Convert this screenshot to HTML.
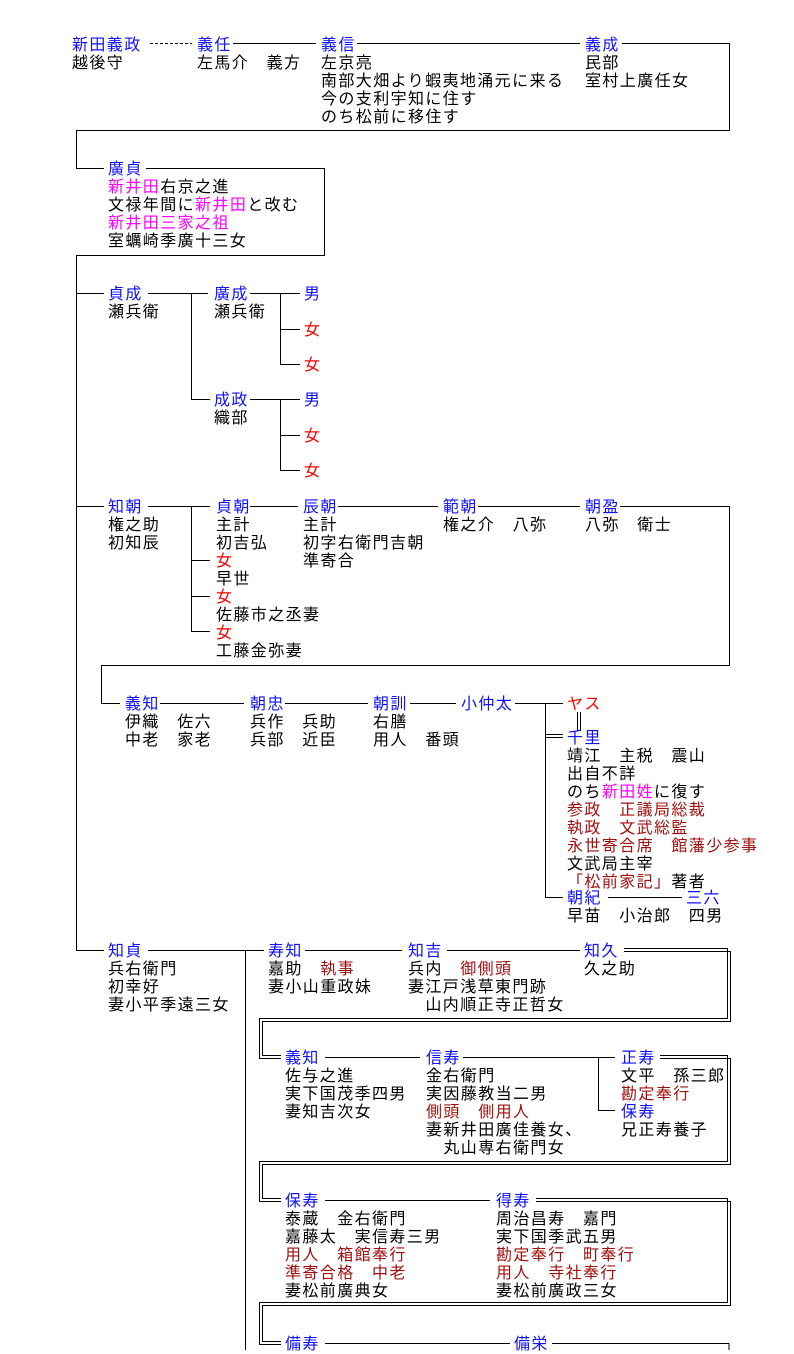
<!DOCTYPE html>
<html><head><meta charset="utf-8">
<style>
body{margin:0;background:#fff;width:794px;height:1350px;overflow:hidden;position:relative}
.t{position:absolute;font-size:16px;line-height:18px;font-family:"Liberation Sans","Noto Sans CJK JP",sans-serif;letter-spacing:1.4px;white-space:pre;color:#000;transform:translateY(2px)}
.b{color:#1010ff}.m{color:#ff00ff}.r{color:#ff0000}.d{color:#a01010}
svg{position:absolute;left:0;top:0}
</style></head><body>
<svg width="794" height="1350" stroke="#000" stroke-width="1" fill="none" shape-rendering="crispEdges">
<line x1="150" y1="43.5" x2="192" y2="43.5" stroke-dasharray="3,2"/>
<line x1="233" y1="43.5" x2="316" y2="43.5"/>
<line x1="357" y1="43.5" x2="580" y2="43.5"/>
<polyline points="622,43.5 729.5,43.5 729.5,130.5 76.5,130.5 76.5,168.5 104,168.5"/>
<polyline points="146,168.5 324.5,168.5 324.5,255.5 76.5,255.5 76.5,950"/>
<line x1="76" y1="293.5" x2="104" y2="293.5"/>
<line x1="148" y1="293.5" x2="208" y2="293.5"/>
<polyline points="191.5,293.5 191.5,399.5 210,399.5"/>
<line x1="250" y1="293.5" x2="300" y2="293.5"/>
<polyline points="280.5,293.5 280.5,364.5 300,364.5"/><line x1="280" y1="329.5" x2="300" y2="329.5"/>
<line x1="250" y1="399.5" x2="300" y2="399.5"/>
<polyline points="280.5,399.5 280.5,470.5 300,470.5"/><line x1="280" y1="435.5" x2="300" y2="435.5"/>
<line x1="76" y1="506.5" x2="104" y2="506.5"/>
<line x1="148" y1="506.5" x2="210" y2="506.5"/>
<polyline points="191.5,506.5 191.5,631.5 210,631.5"/>
<line x1="191" y1="560.5" x2="210" y2="560.5"/><line x1="191" y1="596.5" x2="210" y2="596.5"/>
<line x1="250" y1="506.5" x2="298" y2="506.5"/>
<line x1="338" y1="506.5" x2="438" y2="506.5"/>
<line x1="478" y1="506.5" x2="580" y2="506.5"/>
<polyline points="620,506.5 729.5,506.5 729.5,665.5 101.5,665.5 101.5,703.5 120,703.5"/>
<line x1="160" y1="703.5" x2="244" y2="703.5"/>
<line x1="285" y1="703.5" x2="368" y2="703.5"/>
<line x1="410" y1="703.5" x2="456" y2="703.5"/>
<line x1="515" y1="703.5" x2="563" y2="703.5"/>
<polyline points="545.5,703.5 545.5,897.5 563,897.5"/>
<line x1="577.5" y1="712" x2="577.5" y2="731"/><line x1="580.5" y1="712" x2="580.5" y2="731"/>
<line x1="545" y1="734.5" x2="563" y2="734.5"/><line x1="545" y1="737.5" x2="563" y2="737.5"/>
<line x1="608" y1="897.5" x2="682" y2="897.5"/>
<line x1="76" y1="950.5" x2="104" y2="950.5"/>
<line x1="148" y1="950.5" x2="264" y2="950.5"/>
<line x1="245.5" y1="950" x2="245.5" y2="1350"/>
<line x1="305" y1="950.5" x2="402" y2="950.5"/>
<line x1="447" y1="950.5" x2="580" y2="950.5"/>
<polyline points="624,948.5 727.5,948.5 727.5,1018.5 259.5,1018.5 259.5,1058.5 281,1058.5"/>
<polyline points="624,951.5 730.5,951.5 730.5,1021.5 262.5,1021.5 262.5,1055.5 281,1055.5"/>
<line x1="325" y1="1057.5" x2="420" y2="1057.5"/>
<line x1="463" y1="1057.5" x2="615" y2="1057.5"/>
<polyline points="598.5,1057.5 598.5,1110.5 615,1110.5"/>
<polyline points="660,1055.5 727.5,1055.5 727.5,1161.5 259.5,1161.5 259.5,1201.5 281,1201.5"/>
<polyline points="660,1058.5 730.5,1058.5 730.5,1164.5 262.5,1164.5 262.5,1198.5 281,1198.5"/>
<line x1="325" y1="1200.5" x2="490" y2="1200.5"/>
<polyline points="536,1198.5 727.5,1198.5 727.5,1302.5 259.5,1302.5 259.5,1344.5 281,1344.5"/>
<polyline points="536,1201.5 730.5,1201.5 730.5,1305.5 262.5,1305.5 262.5,1341.5 281,1341.5"/>
<line x1="325" y1="1343.5" x2="510" y2="1343.5"/>
<polyline points="552,1343.5 729,1343.5 729,1350"/>
</svg>

<div class="t" style="left:72px;top:35px"><span class="b">新田義政</span>
越後守</div>
<div class="t" style="left:197px;top:35px"><span class="b">義任</span>
左馬介　義方</div>
<div class="t" style="left:321px;top:35px"><span class="b">義信</span>
左京亮
南部大畑より蝦夷地涌元に来る
今の支利宇知に住す
のち松前に移住す</div>
<div class="t" style="left:585px;top:35px"><span class="b">義成</span>
民部
室村上廣任女</div>

<div class="t" style="left:108px;top:159px"><span class="b">廣貞</span>
<span class="m">新井田</span>右京之進
文禄年間に<span class="m">新井田</span>と改む
<span class="m">新井田三家之祖</span>
室蠣崎季廣十三女</div>

<div class="t" style="left:108px;top:284px"><span class="b">貞成</span>
瀬兵衛</div>
<div class="t" style="left:214px;top:284px"><span class="b">廣成</span>
瀬兵衛</div>
<div class="t" style="left:214px;top:390px"><span class="b">成政</span>
織部</div>
<div class="t b" style="left:304px;top:284px">男</div>
<div class="t r" style="left:304px;top:320px">女</div>
<div class="t r" style="left:304px;top:355px">女</div>
<div class="t b" style="left:304px;top:390px">男</div>
<div class="t r" style="left:304px;top:426px">女</div>
<div class="t r" style="left:304px;top:461px">女</div>

<div class="t" style="left:108px;top:497px"><span class="b">知朝</span>
権之助
初知辰</div>
<div class="t" style="left:216px;top:497px"><span class="b">貞朝</span>
主計
初吉弘
<span class="r">女</span>
早世
<span class="r">女</span>
佐藤市之丞妻
<span class="r">女</span>
工藤金弥妻</div>
<div class="t" style="left:303px;top:497px"><span class="b">辰朝</span>
主計
初字右衛門吉朝
準寄合</div>
<div class="t" style="left:443px;top:497px"><span class="b">範朝</span>
権之介　八弥</div>
<div class="t" style="left:585px;top:497px"><span class="b">朝盈</span>
八弥　衛士</div>

<div class="t" style="left:125px;top:694px"><span class="b">義知</span>
伊織　佐六
中老　家老</div>
<div class="t" style="left:250px;top:694px"><span class="b">朝忠</span>
兵作　兵助
兵部　近臣</div>
<div class="t" style="left:373px;top:694px"><span class="b">朝訓</span>
右膳
用人　番頭</div>
<div class="t b" style="left:461px;top:694px">小仲太</div>
<div class="t r" style="left:567px;top:694px">ヤス</div>
<div class="t" style="left:567px;top:728px"><span class="b">千里</span>
靖江　主税　震山
出自不詳
のち<span class="m">新田姓</span>に復す
<span class="d">参政　正議局総裁</span>
<span class="d">執政　文武総監</span>
<span class="d">永世寄合席　館藩少参事</span>
文武局主宰
<span class="d">「松前家記」</span>著者</div>
<div class="t" style="left:567px;top:888px"><span class="b">朝紀</span>
早苗　小治郎　四男</div>
<div class="t b" style="left:686px;top:888px">三六</div>

<div class="t" style="left:108px;top:941px"><span class="b">知貞</span>
兵右衛門
初幸好
妻小平季遠三女</div>
<div class="t" style="left:268px;top:941px"><span class="b">寿知</span>
嘉助　<span class="d">執事</span>
妻小山重政妹</div>
<div class="t" style="left:408px;top:941px"><span class="b">知吉</span>
兵内　<span class="d">御側頭</span>
妻江戸浅草東門跡
　山内順正寺正哲女</div>
<div class="t" style="left:584px;top:941px"><span class="b">知久</span>
久之助</div>

<div class="t" style="left:285px;top:1048px"><span class="b">義知</span>
佐与之進
実下国茂季四男
妻知吉次女</div>
<div class="t" style="left:426px;top:1048px"><span class="b">信寿</span>
金右衛門
実因藤教当二男
<span class="d">側頭　側用人</span>
妻新井田廣佳養女、
　丸山専右衛門女</div>
<div class="t" style="left:621px;top:1048px"><span class="b">正寿</span>
文平　孫三郎
<span class="d">勘定奉行</span>
<span class="b">保寿</span>
兄正寿養子</div>

<div class="t" style="left:285px;top:1191px"><span class="b">保寿</span>
泰蔵　金右衛門
嘉藤太　実信寿三男
<span class="d">用人　箱館奉行</span>
<span class="d">準寄合格　中老</span>
妻松前廣典女</div>
<div class="t" style="left:496px;top:1191px"><span class="b">得寿</span>
周治昌寿　嘉門
実下国季武五男
<span class="d">勘定奉行　町奉行</span>
<span class="d">用人　寺社奉行</span>
妻松前廣政三女</div>

<div class="t b" style="left:285px;top:1334px">備寿</div>
<div class="t b" style="left:514px;top:1334px">備栄</div>
</body></html>
